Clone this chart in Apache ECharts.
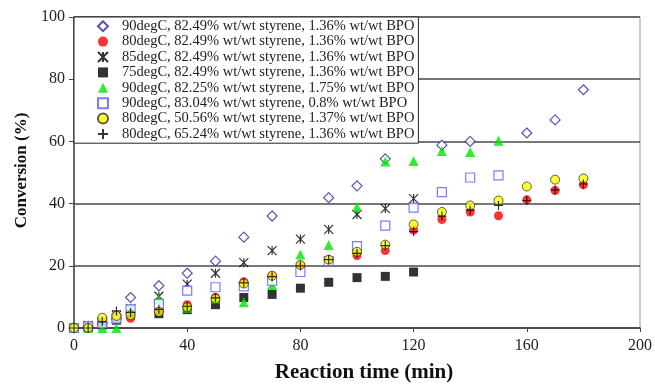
<!DOCTYPE html>
<html>
<head>
<meta charset="utf-8">
<script src="https://cdn.jsdelivr.net/npm/echarts@6/dist/echarts.min.js"></script>
<style>
  html, body { margin: 0; padding: 0; background: #fff; }
  #main { width: 655px; height: 388px; }
</style>
</head>
<body>
<div id="main"></div>
<script>
// reaction times (min)
var times = [0, 5, 10, 15, 20, 30, 40, 50, 60, 70, 80, 90, 100, 110, 120, 130, 140, 150, 160, 170, 180];

// conversion (%) per run, null = no point
var run90_8249_136 = [0, 0.5, 1.5, 3, 9.8, 13.6, 17.6, 21.5, 29.2, 36.0, null, 41.9, 45.7, 54.4, null, 58.8, 60.0, null, 62.7, 66.9, 76.6];
var run80_8249_136 = [0, 0, 2, 3, 3.1, 5.5, 7.5, 9.9, 14.9, 16.8, 20.1, 21.7, 23.3, 24.9, 31.5, 34.9, 37.3, 36.1, 41.2, 44.2, 46.0];
var run85_8249_136 = [0, 0.8, 2, 4, 6.2, 10.2, 14.1, 17.6, 21.0, 24.9, 28.6, 31.7, 36.5, 38.4, 41.6, null, null, null, null, null, null];
var run75_8249_136 = [0, 0.3, 1, 2.5, 4.5, 4.6, 5.9, 7.5, 9.8, 10.8, 12.8, 14.7, 16.2, 16.6, 18.0, null, null, null, null, null, null];
var run90_8225_175 = [0, 0, 0, 0, 6.4, 9.2, 6.5, 9.5, 8.3, 13.8, 23.6, 26.7, 38.9, 53.5, 53.7, 56.9, 56.6, 60.2, null, null, null];
var run90_8304_08  = [0, 0.5, 1.5, 3, 6, 7.8, 12.0, 13.1, 13.4, 15.2, 18.0, 21.5, 26.3, 32.9, 38.7, 43.7, 48.4, 49.1, null, null, null];
var run80_5056_137 = [0, 0, 3.3, 3.9, 4.1, 5.2, 6.7, 9.4, 14.3, 16.8, 20.3, 22.0, 24.5, 26.8, 33.3, 37.3, 39.4, 41.0, 45.5, 47.7, 48.1];
var run80_6524_136 = [0, 0, 2, 5.5, 5, 6, 7, 9.7, 14.5, 16.5, 20, 22, 24, 26.5, 31, 36, 37.9, 39.4, 41.0, 44.4, 46.3];

function pairs(vals) {
  var out = [];
  for (var i = 0; i < times.length; i++) {
    if (vals[i] !== null) out.push([times[i], vals[i]]);
  }
  return out;
}

var serif = 'Liberation Serif, Times New Roman, serif';

var runs = [
  { name: '90degC, 82.49% wt/wt styrene, 1.36% wt/wt BPO', data: run90_8249_136, symbol: 'diamond', size: 10, style: { color: '#fff', borderColor: '#2b2ba0', borderWidth: 1.2 } },
  { name: '80degC, 82.49% wt/wt styrene, 1.36% wt/wt BPO', data: run80_8249_136, symbol: 'circle', size: 9, style: { color: '#ff0000', borderColor: '#ff0000', borderWidth: 0 } },
  { name: '85degC, 82.49% wt/wt styrene, 1.36% wt/wt BPO', data: run85_8249_136, symbol: 'path://M0,0L10,10M10,0L0,10M5,0L5,10', size: 9, style: { color: 'transparent', borderColor: '#000', borderWidth: 1.2 } },
  { name: '75degC, 82.49% wt/wt styrene, 1.36% wt/wt BPO', data: run75_8249_136, symbol: 'rect', size: 9, style: { color: '#000', borderColor: '#000', borderWidth: 0 } },
  { name: '90degC, 82.25% wt/wt styrene, 1.75% wt/wt BPO', data: run90_8225_175, symbol: 'triangle', size: 10, style: { color: '#00e600', borderColor: '#00e600', borderWidth: 0 } },
  { name: '90degC, 83.04% wt/wt styrene, 0.8% wt/wt BPO', data: run90_8304_08, symbol: 'rect', size: 9, style: { color: '#fff', borderColor: '#5a5aff', borderWidth: 1.2 } },
  { name: '80degC, 50.56% wt/wt styrene, 1.37% wt/wt BPO', data: run80_5056_137, symbol: 'circle', size: 9, style: { color: '#ffff00', borderColor: '#333', borderWidth: 1 } },
  { name: '80degC, 65.24% wt/wt styrene, 1.36% wt/wt BPO', data: run80_6524_136, symbol: 'path://M5,0L5,10M0,5L10,5', size: 9, style: { color: 'transparent', borderColor: '#000', borderWidth: 1.2 } }
];

var series = runs.map(function (r) {
  return {
    name: r.name,
    type: 'scatter',
    data: pairs(r.data),
    symbol: r.symbol,
    symbolSize: r.size,
    itemStyle: r.style,
    emphasis: { disabled: true }
  };
});

var myChart = echarts.init(document.getElementById('main'));
var option = {
  animation: false,
  backgroundColor: '#fff',
  grid: {
    left: 74, right: 14, top: 17, bottom: 55,
    show: true, borderColor: '#999', borderWidth: 1
  },
  legend: {
    orient: 'vertical',
    left: 74, top: 17,
    padding: [1.5, 4, 1.5, 23],
    itemWidth: 10, itemHeight: 10,
    itemGap: 0,
    backgroundColor: '#fff',
    borderColor: '#222', borderWidth: 1,
    textStyle: { fontFamily: serif, fontSize: 14.5, lineHeight: 15.4, color: '#222', padding: [0, 0, 0, 9] },
    data: runs.map(function (r) { return r.name; })
  },
  xAxis: {
    type: 'value',
    min: 0, max: 200, interval: 40,
    name: 'Reaction time (min)',
    nameLocation: 'middle',
    nameGap: 34,
    nameTextStyle: { fontFamily: serif, fontSize: 21, fontWeight: 'bold', color: '#111', padding: [0, 0, 0, 14] },
    axisLine: { lineStyle: { color: '#444', width: 1.5 } },
    axisTick: { show: true, inside: false, length: 4, lineStyle: { color: '#444' } },
    axisLabel: { fontFamily: serif, fontSize: 16, color: '#222', margin: 10 },
    splitLine: { show: false }
  },
  yAxis: {
    type: 'value',
    min: 0, max: 100, interval: 20,
    name: 'Conversion (%)',
    nameLocation: 'middle',
    nameGap: 38,
    nameTextStyle: { fontFamily: serif, fontSize: 17, fontWeight: 'bold', color: '#111', padding: [0, 0, 0, 4] },
    axisLine: { show: true, lineStyle: { color: '#444', width: 1.5 } },
    axisTick: { show: true, inside: false, length: 5, lineStyle: { color: '#444' } },
    axisLabel: { fontFamily: serif, fontSize: 16, color: '#222', margin: 9 },
    splitLine: { show: true, lineStyle: { color: '#4a4a4a', width: 1.5 } }
  },
  series: series
};
option && myChart.setOption(option);
</script>
</body>
</html>
